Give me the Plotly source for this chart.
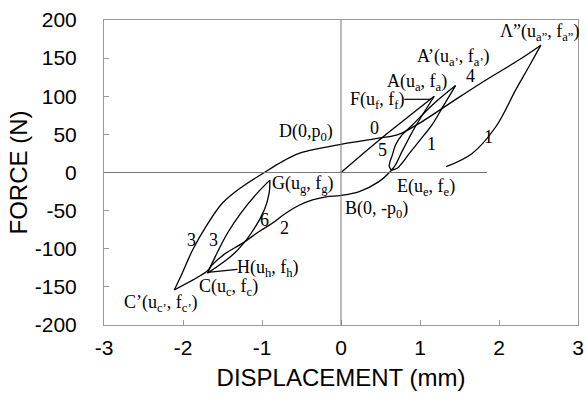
import plotly.graph_objects as go

# Kurven (Verschiebung in mm, Kraft in N)
# 0: Erstbelastung O -> A
path0_x = [0.0, 0.5, 0.9, 1.18]
path0_y = [0, 44, 77, 100]

# 1: Entlastung A -> E
pathAE_x = [1.18, 0.94, 0.86, 0.77, 0.69, 0.64]
pathAE_y = [100, 60, 45, 27, 10, 3]

# 5: Wiederbelastung E -> A'
path5_x = [0.64, 0.61, 0.62, 0.65, 0.69, 0.77, 0.9, 1.15, 1.45]
path5_y = [3, 8, 14, 23, 36, 49, 62, 88, 114]

# 1: Entlastung A' -> E
pathA1E_x = [1.45, 1.3, 1.15, 1.05, 0.88, 0.71, 0.64]
pathA1E_y = [114, 88, 62, 49, 27, 5.5, 3]

# 2: E -> B -> C -> C'
path2_x = [0.64, 0.48, 0.23, 0.0, -0.19, -0.36, -0.53, -0.7, -0.87, -1.04, -1.25, -1.46, -1.63, -1.69, -2.11]
path2_y = [3, -12, -25, -30, -32, -36, -43, -53.5, -66.6, -77.6, -93, -106, -121, -129, -154]

# 3 / 4: C' -> D -> A''
path34_x = [-2.11, -2.01, -1.88, -1.71, -1.5, -1.25, -0.97, -0.75, -0.53, -0.3, 0.0, 0.48, 0.73, 0.99, 1.41, 1.83, 2.25, 2.53]
path34_y = [-154, -132, -102, -71, -40, -18.6, 0, 14, 25, 31, 37, 45, 50, 64.5, 93, 121, 147.5, 167]

# 1: Entlastung ab A''
pathA2_x = [2.53, 2.38, 2.21, 1.96, 1.66, 1.33]
pathA2_y = [167, 139, 108, 60, 25, 7.6]

# 3 (innen): C -> G
path3i_x = [-1.69, -1.59, -1.44, -1.27, -1.06, -0.9]
path3i_y = [-132, -110, -80, -53.5, -27, -10]

# 6: G -> H
path6_x = [-0.9, -0.91, -0.97, -1.14, -1.35, -1.69]
path6_y = [-10, -27, -49, -80, -106, -132]

# Hinweislinien zu F und H
ptrF_x = [0.8, 1.14]
ptrF_y = [96, 96]
ptrH_x = [-1.31, -1.69]
ptrH_y = [-127, -131]

# Achsenbeschriftungen (mit normalem Bindestrich)
xticks = [-3, -2, -1, 0, 1, 2, 3]
yticks = [200, 150, 100, 50, 0, -50, -100, -150, -200]

fig = go.Figure()

curves = [
    (path0_x, path0_y), (pathAE_x, pathAE_y), (path5_x, path5_y),
    (pathA1E_x, pathA1E_y), (path2_x, path2_y), (path34_x, path34_y),
    (pathA2_x, pathA2_y), (path3i_x, path3i_y), (path6_x, path6_y),
]
for cx, cy in curves:
    fig.add_trace(go.Scatter(x=cx, y=cy, mode="lines",
                             line=dict(color="black", width=1.3, shape="spline", smoothing=1.0),
                             showlegend=False, hoverinfo="skip"))

for px_, py_ in [(ptrF_x, ptrF_y), (ptrH_x, ptrH_y)]:
    fig.add_trace(go.Scatter(x=px_, y=py_, mode="lines",
                             line=dict(color="black", width=1.2),
                             showlegend=False, hoverinfo="skip"))

# Beschriftungen
labels = [
    (2.51, 184, "Λ”(u<sub>a”</sub>, f<sub>a”</sub>)"),
    (1.43, 151, "A’(u<sub>a’</sub>, f<sub>a’</sub>)"),
    (0.96, 118, "A(u<sub>a</sub>, f<sub>a</sub>)"),
    (0.46, 94, "F(u<sub>f</sub>, f<sub>f</sub>)"),
    (-0.44, 53, "D(0,p<sub>0</sub>)"),
    (-0.48, -16, "G(u<sub>g</sub>, f<sub>g</sub>)"),
    (1.08, -20, "E(u<sub>e</sub>, f<sub>e</sub>)"),
    (0.45, -48, "B(0, -p<sub>0</sub>)"),
    (-0.92, -126, "H(u<sub>h</sub>, f<sub>h</sub>)"),
    (-1.42, -151, "C(u<sub>c</sub>, f<sub>c</sub>)"),
    (-2.28, -172, "C’(u<sub>c’</sub>, f<sub>c’</sub>)"),
    (1.64, 127, "4"),
    (0.42, 59, "0"),
    (0.52, 29, "5"),
    (1.15, 38, "1"),
    (1.87, 47, "1"),
    (-0.97, -62, "6"),
    (-0.72, -73, "2"),
    (-1.89, -88, "3"),
    (-1.61, -89, "3"),
]
for lx, ly, txt in labels:
    fig.add_annotation(x=lx, y=ly, text=txt, showarrow=False,
                       font=dict(family="Liberation Serif", size=18, color="black"))

# Nulllinien
fig.add_shape(type="line", x0=-3, x1=1.85, y0=0, y1=0, line=dict(color="#777", width=1))
fig.add_shape(type="line", x0=0, x1=0, y0=-200, y1=200, line=dict(color="#777", width=1))

fig.update_layout(
    width=587, height=400,
    margin=dict(l=104, r=9, t=20, b=75),
    paper_bgcolor="white", plot_bgcolor="white",
    font=dict(family="Liberation Sans", size=20, color="black"),
)
fig.update_xaxes(range=[-3, 3], tickvals=xticks, ticktext=[str(v) for v in xticks],
                 tickfont=dict(size=21),
                 showgrid=False, zeroline=False, automargin=False,
                 showline=True, mirror=True, linecolor="#999", linewidth=1,
                 ticks="inside", ticklen=5, tickcolor="#999", ticklabelstandoff=4,
                 title=dict(text="DISPLACEMENT (mm)", standoff=10))
fig.update_yaxes(range=[-200, 200], tickvals=yticks, ticktext=[str(v) for v in yticks],
                 tickfont=dict(size=21),
                 showgrid=False, zeroline=False, automargin=False,
                 showline=True, mirror=True, linecolor="#999", linewidth=1,
                 ticks="inside", ticklen=5, tickcolor="#999", ticklabelstandoff=22,
                 title=dict(text="FORCE (N)", standoff=0))

# Seitenrand entfernen, damit die Grafik genau im Fenster sitzt
fig.write_html("out.html", config={"displayModeBar": False},
               post_script="document.body.style.margin='0';")
